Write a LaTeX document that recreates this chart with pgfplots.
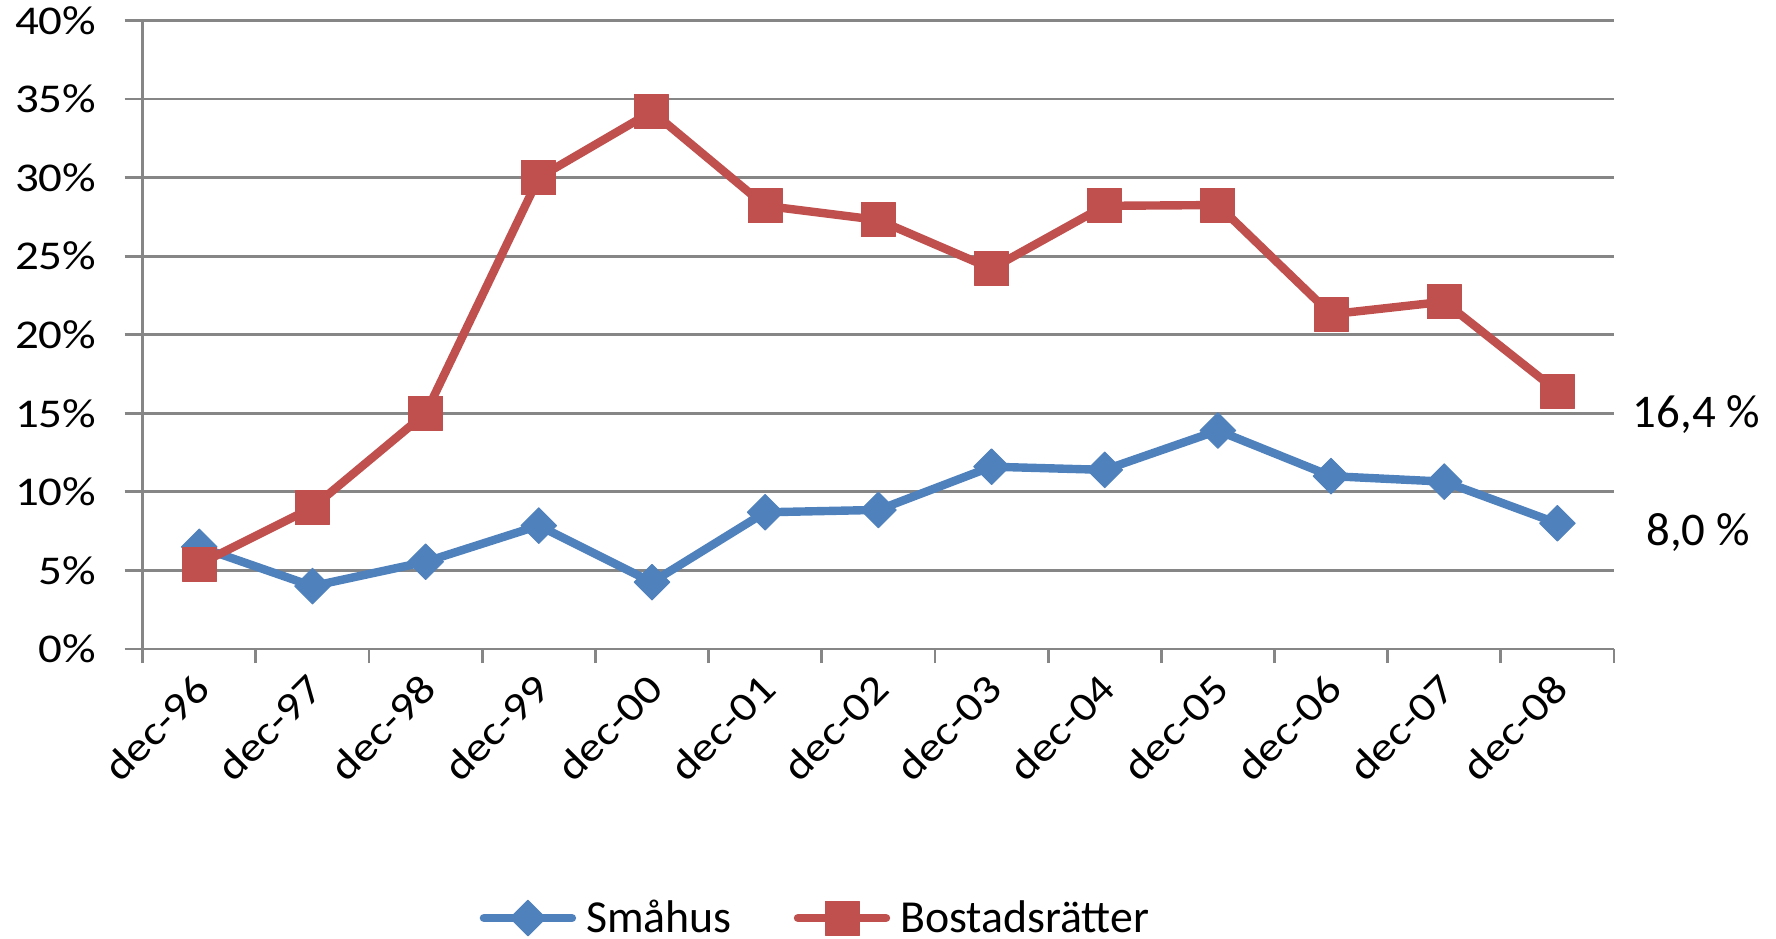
\documentclass[border=0pt]{standalone}
\usepackage{fontspec}
\setmainfont{Carlito}
\newfontfamily\tickfont[FakeStretch=1.15]{Carlito}
\usepackage{pgfplots}
\pgfplotsset{compat=1.18}
\definecolor{smablue}{HTML}{4F81BD}
\definecolor{bored}{HTML}{C0504D}
\definecolor{gridgray}{HTML}{868686}
\begin{document}
\begin{tikzpicture}
\useasboundingbox (-71.35bp,-145bp) rectangle (816.65bp,324.5bp);
\begin{axis}[
  scale only axis,
  width=735.65bp, height=314.3bp,
  xmin=-0.5, xmax=12.5, ymin=0, ymax=40,
  axis lines*=left,
  axis line style={draw=gridgray, line width=1.4bp},
  ytick={0,5,...,40},
  yticklabels={0\%,5\%,10\%,15\%,20\%,25\%,30\%,35\%,40\%},
  xtick={0,...,12},
  xticklabels={dec-96,dec-97,dec-98,dec-99,dec-00,dec-01,dec-02,dec-03,dec-04,dec-05,dec-06,dec-07,dec-08},
  minor xtick={-0.5,0.5,...,12.5},
  major x tick style={draw=none},
  minor x tick style={draw=gridgray, line width=1.4bp},
  major y tick style={draw=gridgray, line width=1.4bp},
  tick align=outside,
  major tick length=9bp,
  minor tick length=7bp,
  ymajorgrids,
  major grid style={draw=gridgray, line width=1.4bp},
  tick label style={font=\tickfont\fontsize{20.5}{24}\selectfont, text=black},
  yticklabel style={anchor=east, inner sep=0pt, xshift=-14bp},
  xticklabel style={inner sep=0pt, xshift=-3.5bp, yshift=-2bp, rotate=45, anchor=north east},
  clip=false,
  legend columns=2,
  legend style={at={(0.458,-0.428)}, anchor=center, draw=none, inner sep=0pt,
    font=\fontsize{23}{27}\selectfont,
    /tikz/every odd column/.append style={column sep=3bp},
    /tikz/every even column/.append style={column sep=29bp}},
  legend image code/.code={\draw[mark repeat=2,mark phase=2, line cap=round] plot coordinates {(0bp,0bp) (22bp,0bp) (44bp,0bp)};},
]
\addplot[smablue, line width=4.2bp, line join=round, mark=square*, mark size=6.3bp,
  mark options={solid, rotate=45, fill=smablue, draw=smablue, line width=0.5bp}]
  coordinates {(0,6.5) (1,4.0) (2,5.55) (3,7.85) (4,4.25) (5,8.7) (6,8.85) (7,11.6) (8,11.4) (9,13.9) (10,11.0) (11,10.65) (12,8.0)};
\addlegendentry{Småhus}
\addplot[bored, line width=4.2bp, line join=round, mark=square*, mark size=8.5bp,
  mark options={solid, fill=bored, draw=bored, line width=0.5bp}]
  coordinates {(0,5.4) (1,9.0) (2,15.0) (3,30.0) (4,34.2) (5,28.2) (6,27.3) (7,24.2) (8,28.2) (9,28.25) (10,21.3) (11,22.1) (12,16.4)};
\addlegendentry{Bostadsrätter}
\node[font=\fontsize{23.5}{27}\selectfont] at (rel axis cs:1.056,0.373) {16,4 \%};
\node[font=\fontsize{23.5}{27}\selectfont] at (rel axis cs:1.057,0.1854) {8,0 \%};
\end{axis}
\end{tikzpicture}
\end{document}
